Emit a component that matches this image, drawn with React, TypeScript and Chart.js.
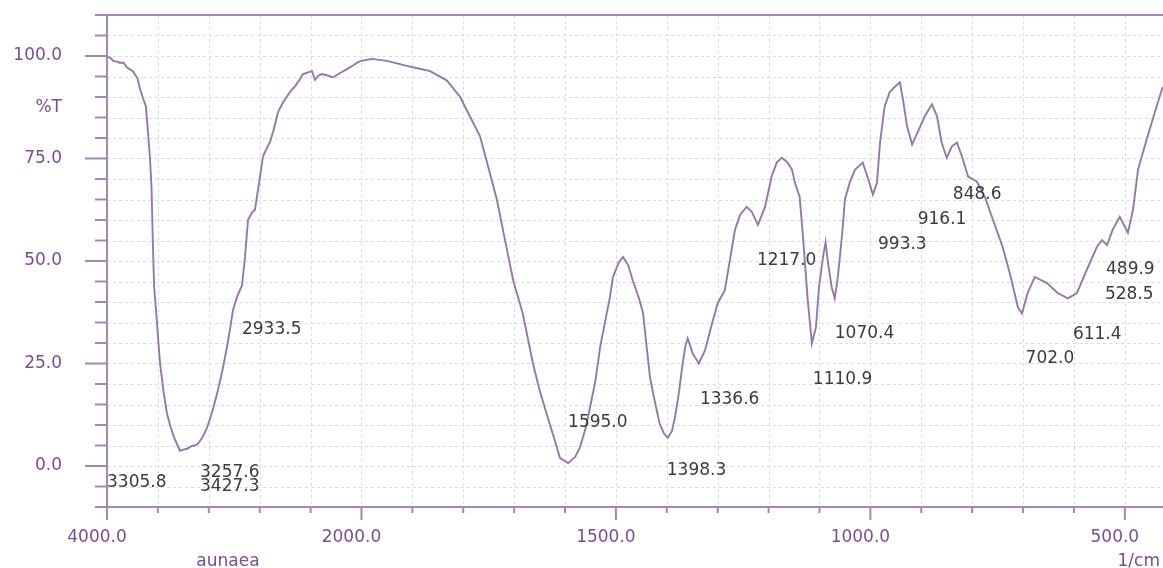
import React, { useEffect, useRef } from 'react';
import { Chart, registerables } from 'chart.js';

Chart.register(...registerables);

// Spectrum: wavenumber (1/cm) and transmittance (%T)
const wavenumbers = [
  4000, 3976, 3950, 3920, 3898, 3870, 3843, 3796, 3760, 3741, 3715, 3694, 3678, 3662, 3650, 3640, 3630, 3610,
  3583, 3555, 3528, 3500, 3473, 3445, 3426, 3400, 3371, 3350, 3332, 3310, 3285, 3250, 3214, 3175, 3135, 3095,
  3057, 3030, 3010, 2975, 2939, 2915, 2892, 2860, 2837, 2800, 2774, 2745, 2719, 2690, 2656, 2620, 2585, 2555,
  2523, 2490, 2460, 2420, 2389, 2365, 2340, 2310, 2270, 2224, 2170, 2114, 2060, 2027, 2000, 1979, 1950, 1911,
  1890, 1865, 1832, 1806, 1787, 1767, 1751, 1734, 1714, 1702, 1683, 1663, 1650, 1636, 1622, 1610, 1594, 1580,
  1571, 1560, 1551, 1540, 1531, 1520, 1512, 1506, 1495, 1486, 1476, 1467, 1455, 1447, 1433, 1424, 1414, 1405,
  1398, 1390, 1384, 1376, 1370, 1364, 1359, 1349, 1337, 1325, 1311, 1300, 1286, 1276, 1266, 1256, 1243, 1233,
  1221, 1207, 1194, 1184, 1174, 1164, 1154, 1148, 1139, 1133, 1129, 1123, 1115, 1107, 1101, 1093, 1088, 1084,
  1076, 1070, 1064, 1056, 1050, 1040, 1030, 1015, 1005, 995, 987, 981, 972, 962, 952, 942, 936, 928,
  918, 909, 893, 879, 869, 860, 850, 840, 830, 820, 808, 791, 775, 759, 740, 726, 710, 702,
  691, 677, 653, 632, 612, 594, 575, 555, 545, 535, 524, 510, 494, 484, 474, 457, 441, 427, 425,
];
const transmittance = [
  99.8, 99.6, 98.8, 98.6, 98.3, 98.4, 97.2, 96.3, 94.5, 92.0, 89.5, 87.7, 81.4, 75.0, 68.0, 55.0, 44.0, 36.0,
  25.0, 18.0, 12.7, 9.5, 7.0, 5.0, 3.7, 4.0, 4.2, 4.6, 4.9, 5.0, 5.4, 7.0, 9.3, 13.0, 17.6, 23.0,
  29.0, 34.0, 38.0, 41.5, 44.0, 51.0, 60.0, 61.8, 62.5, 70.0, 75.5, 77.5, 79.0, 82.0, 86.3, 88.5, 90.2, 91.5,
  92.6, 94.0, 95.6, 96.0, 96.3, 94.2, 95.2, 95.6, 95.3, 94.8, 95.8, 96.8, 97.8, 98.5, 98.8, 99.3, 98.8, 97.6,
  97.0, 96.3, 94.0, 90.0, 85.3, 80.4, 73.0, 65.0, 52.7, 45.3, 37.2, 25.0, 18.5, 12.7, 7.0, 2.0, 0.7, 2.2,
  4.4, 9.0, 14.2, 21.0, 29.0, 36.0, 41.0, 46.0, 49.5, 51.0, 49.0, 45.3, 41.0, 37.5, 21.6, 16.0, 10.3, 7.8,
  6.9, 8.5, 11.8, 18.0, 24.0, 29.0, 31.1, 27.4, 25.0, 28.2, 34.8, 39.7, 42.9, 50.2, 57.6, 61.3, 63.2, 62.0,
  58.8, 63.2, 70.6, 74.0, 75.2, 74.2, 72.3, 69.0, 65.7, 56.8, 50.2, 40.4, 29.9, 33.8, 43.6, 51.0, 54.6, 50.2,
  43.6, 40.9, 46.0, 55.9, 65.0, 69.4, 72.3, 74.0, 70.3, 66.2, 69.1, 78.9, 87.7, 91.2, 92.5, 93.6, 89.5, 82.9,
  78.4, 80.9, 85.3, 88.2, 85.3, 78.9, 75.2, 77.9, 78.9, 75.5, 70.6, 69.4, 65.7, 60.0, 53.4, 47.0, 38.7, 37.2,
  42.2, 46.1, 44.6, 42.2, 40.9, 42.2, 47.8, 53.4, 55.1, 53.9, 57.6, 60.8, 56.9, 62.5, 72.3, 79.7, 86.3, 91.9, 92.5,
];

// Axis ticks
const xTickValues = [
  4000, 3600, 3200, 2800, 2400, 2000, 1900, 1800, 1700, 1600, 1500, 1400, 1300, 1200, 1100, 1000,
  900, 800, 700, 600, 500,
];
const xMajorTicks = [4000, 2000, 1500, 1000, 500];
const xTickLabels = ['4000.0', '2000.0', '1500.0', '1000.0', '500.0'];
const yTickValues = [-10, -5, 0, 5, 10, 15, 20, 25, 30, 35, 40, 45, 50, 55, 60, 65, 70, 75, 80, 85, 90, 95, 100, 105, 110];
const yMajorTicks = [0, 25, 50, 75, 100];
const yTickLabels = ['0.0', '25.0', '50.0', '75.0', '100.0'];

// Peak annotations: text and anchor (wavenumber, %T)
const peakTexts = [
  '2933.5', '3305.8', '3257.6', '3427.3', '1595.0', '1398.3', '1336.6', '1217.0', '1110.9',
  '1070.4', '993.3', '916.1', '848.6', '702.0', '611.4', '489.9', '528.5',
];
const peakAnchorWn = [2939, 4000, 3269, 3269, 1594, 1400, 1335, 1223, 1113, 1070, 985, 907, 838, 695, 602, 537, 539];
const peakAnchorT = [33.2, -4.1, -1.5, -5.1, 10.5, -1.0, 16.1, 50.0, 21.0, 32.4, 53.9, 60.0, 66.1, 26.3, 32.0, 47.8, 41.7];

const X_START = 4000;
const X_END = 425;
const Y_MIN = -10;
const Y_MAX = 110;

// Instrument-style axis: 4000-2000 compressed 4x relative to 2000-400
function axisPos(w: number): number {
  return w >= 2000 ? (4000 - w) / 4 : 500 + (2000 - w);
}

const AXIS_COLOR = '#a487b1';
const TICK_TEXT = '#7b4e8c';
const CURVE_COLOR = '#9479a3';
const PEAK_TEXT = '#3c3c3c';
const GRID_COLOR = '#dcdcdc';
const FONT = '"DejaVu Sans", "Liberation Sans", sans-serif';

const ftirFrame = {
  id: 'ftirFrame',
  beforeDatasetsDraw(chart: any) {
    const { ctx, chartArea: a, scales } = chart;
    const xs = scales.x;
    const ys = scales.y;
    ctx.save();
    ctx.strokeStyle = GRID_COLOR;
    ctx.lineWidth = 1;
    ctx.setLineDash([3, 3]);
    xTickValues.forEach((w) => {
      if (w === X_START) return;
      const px = Math.round(xs.getPixelForValue(axisPos(w))) + 0.5;
      ctx.beginPath();
      ctx.moveTo(px, a.top);
      ctx.lineTo(px, a.bottom);
      ctx.stroke();
    });
    yTickValues.forEach((v) => {
      if (v === Y_MIN || v === Y_MAX) return;
      const py = Math.round(ys.getPixelForValue(v)) + 0.5;
      ctx.beginPath();
      ctx.moveTo(a.left, py);
      ctx.lineTo(a.right, py);
      ctx.stroke();
    });
    ctx.restore();
  },
  afterDatasetsDraw(chart: any) {
    const { ctx, chartArea: a, scales } = chart;
    const xs = scales.x;
    const ys = scales.y;
    ctx.save();
    ctx.setLineDash([]);
    ctx.strokeStyle = AXIS_COLOR;
    ctx.lineWidth = 2;

    // y ticks (left side)
    yTickValues.forEach((v) => {
      const py = ys.getPixelForValue(v);
      const len = yMajorTicks.includes(v) ? 22 : 12;
      ctx.beginPath();
      ctx.moveTo(a.left - len, py);
      ctx.lineTo(a.left, py);
      ctx.stroke();
    });
    // top border and bottom axis
    ctx.beginPath();
    ctx.moveTo(a.left - 12, ys.getPixelForValue(Y_MAX));
    ctx.lineTo(a.right, ys.getPixelForValue(Y_MAX));
    ctx.stroke();
    ctx.beginPath();
    ctx.moveTo(a.left - 12, ys.getPixelForValue(Y_MIN));
    ctx.lineTo(a.right, ys.getPixelForValue(Y_MIN));
    ctx.stroke();
    // y axis line
    ctx.beginPath();
    ctx.moveTo(a.left, a.top);
    ctx.lineTo(a.left, a.bottom);
    ctx.stroke();
    // x ticks (below)
    xTickValues.forEach((w) => {
      const px = xs.getPixelForValue(axisPos(w));
      const len = xMajorTicks.includes(w) ? 13 : 6;
      ctx.beginPath();
      ctx.moveTo(px, a.bottom);
      ctx.lineTo(px, a.bottom + len);
      ctx.stroke();
    });

    // tick labels
    ctx.fillStyle = TICK_TEXT;
    ctx.font = '17px ' + FONT;
    ctx.textBaseline = 'middle';
    ctx.textAlign = 'right';
    yMajorTicks.forEach((v, i) => {
      ctx.fillText(yTickLabels[i], 62, ys.getPixelForValue(v));
    });
    ctx.fillText('%T', 62, ys.getPixelForValue(87.5));
    ctx.textAlign = 'center';
    xMajorTicks.forEach((w, i) => {
      ctx.fillText(xTickLabels[i], xs.getPixelForValue(axisPos(w)) - 10, a.bottom + 31);
    });
    ctx.fillText('aunaea', 228, a.bottom + 55);
    ctx.textAlign = 'right';
    ctx.fillText('1/cm', 1160, a.bottom + 55);

    // peak labels
    ctx.fillStyle = PEAK_TEXT;
    ctx.font = '17px ' + FONT;
    ctx.textAlign = 'left';
    ctx.textBaseline = 'middle';
    peakTexts.forEach((t, i) => {
      ctx.fillText(t, xs.getPixelForValue(axisPos(peakAnchorWn[i])), ys.getPixelForValue(peakAnchorT[i]));
    });
    ctx.restore();
  },
};

export default function App() {
  const canvasRef = useRef<HTMLCanvasElement | null>(null);

  useEffect(() => {
    document.body.style.margin = '0';
    const canvas = canvasRef.current;
    if (!canvas) return;
    const points = wavenumbers.map((w, i) => ({ x: axisPos(w), y: transmittance[i] }));
    const chart = new Chart(canvas, {
      type: 'line',
      data: {
        datasets: [
          {
            data: points,
            borderColor: CURVE_COLOR,
            borderWidth: 1.9,
            pointRadius: 0,
            tension: 0,
            fill: false,
          },
        ],
      },
      options: {
        animation: false,
        responsive: false,
        events: [],
        layout: { padding: { left: 107, right: 0, top: 15, bottom: 61 } },
        plugins: { legend: { display: false }, tooltip: { enabled: false } },
        scales: {
          x: { type: 'linear', min: 0, max: axisPos(X_END), display: false },
          y: { type: 'linear', min: Y_MIN, max: Y_MAX, display: false },
        },
      },
      plugins: [ftirFrame],
    });
    return () => chart.destroy();
  }, []);

  return (
    <div style={{ width: 1163, height: 568, overflow: 'hidden', background: '#fff' }}>
      <canvas ref={canvasRef} width={1163} height={568} style={{ display: 'block' }} />
    </div>
  );
}
